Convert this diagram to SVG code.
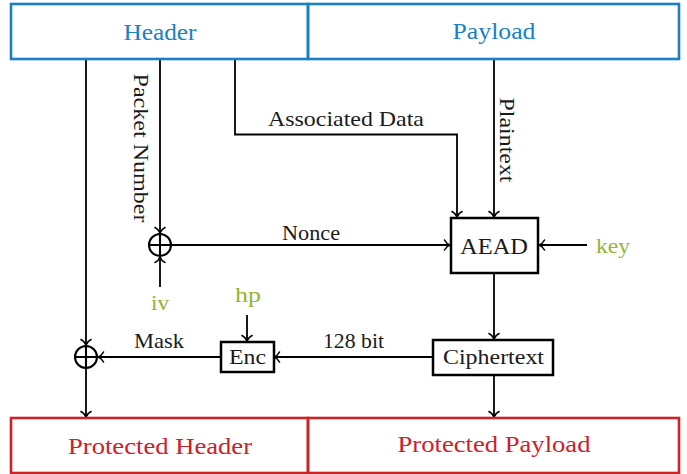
<svg xmlns="http://www.w3.org/2000/svg" width="687" height="474" viewBox="0 0 687 474">
<defs>
<style>
text{font-family:"Liberation Serif","Times New Roman",serif;text-anchor:middle;fill:#1a1a1a}
.big{font-size:24px}
.lbl{font-size:21px}
.blue{fill:#1a80c4}
.red{fill:#cc2229}
.green{fill:#93b531}
.pkt{fill:none;stroke-width:2.6}
.box{fill:#fff;stroke:#000;stroke-width:2.5}
.ln{fill:none;stroke:#000;stroke-width:1.8;marker-end:url(#arr)}
.xor{fill:none;stroke:#000;stroke-width:2.1}
</style>
<marker id="arr" markerUnits="userSpaceOnUse" viewBox="-7 -6 8 12" refX="0" refY="0" markerWidth="8" markerHeight="12" orient="auto" overflow="visible">
<path d="M-5.5,-5 C-4,-2 -1.5,-0.5 0,0 C-1.5,0.5 -4,2 -5.5,5" fill="none" stroke="#000" stroke-width="1.6" stroke-linecap="round"/>
</marker>
</defs>
<g id="connectors">
<path class="ln" d="M86,59 V345"/>
<path class="ln" d="M86,368 V417"/>
<path class="ln" d="M160,59 V233"/>
<path class="ln" d="M160,287 V257"/>
<path class="ln" d="M171,245 H450"/>
<path class="ln" d="M235,59 V134.5 H457 V217"/>
<path class="ln" d="M494,59 V217"/>
<path class="ln" d="M587,245 H539"/>
<path class="ln" d="M494,273 V339"/>
<path class="ln" d="M433,357 H274"/>
<path class="ln" d="M247,315 V341"/>
<path class="ln" d="M221,357 H98"/>
<path class="ln" d="M494,375 V417"/>
<text class="lbl" x="346" y="126" textLength="156" lengthAdjust="spacingAndGlyphs">Associated Data</text>
<text class="lbl" x="311" y="240" textLength="58" lengthAdjust="spacingAndGlyphs">Nonce</text>
<text class="lbl" transform="translate(134,148) rotate(90)" x="0" y="0" textLength="149" lengthAdjust="spacingAndGlyphs">Packet Number</text>
<text class="lbl" transform="translate(500,140) rotate(90)" x="0" y="0" textLength="85" lengthAdjust="spacingAndGlyphs">Plaintext</text>
<text class="lbl" x="159" y="348" textLength="50" lengthAdjust="spacingAndGlyphs">Mask</text>
<text class="lbl" x="353.5" y="348" textLength="61" lengthAdjust="spacingAndGlyphs">128 bit</text>
</g>
<g id="header">
<rect class="pkt" x="11" y="4" width="297" height="55" stroke="#1a80c4" fill="none"/>
<text class="big blue" x="160" y="40" textLength="73" lengthAdjust="spacingAndGlyphs">Header</text>
</g>
<g id="payload">
<rect class="pkt" x="308" y="4" width="371" height="55" stroke="#1a80c4" fill="none"/>
<text class="big blue" x="494" y="39" textLength="83" lengthAdjust="spacingAndGlyphs">Payload</text>
</g>
<g id="protected-header">
<rect class="pkt" x="11" y="418" width="297" height="55" stroke="#cc2229" fill="none"/>
<text class="big red" x="160" y="454" textLength="184" lengthAdjust="spacingAndGlyphs">Protected Header</text>
</g>
<g id="protected-payload">
<rect class="pkt" x="308" y="418" width="371" height="55" stroke="#cc2229" fill="none"/>
<text class="big red" x="494" y="452" textLength="193" lengthAdjust="spacingAndGlyphs">Protected Payload</text>
</g>
<g id="xor-nonce">
<circle class="xor" cx="160" cy="245" r="11"/>
<path class="xor" d="M149,245 H171 M160,234 V256"/>
</g>
<g id="iv">
<text class="lbl green" x="160" y="310" style="font-size:22px" textLength="18" lengthAdjust="spacingAndGlyphs">iv</text>
</g>
<g id="aead">
<rect class="box" x="451" y="218" width="87" height="55"/>
<text class="lbl" x="494" y="254" style="font-size:23px" textLength="68" lengthAdjust="spacingAndGlyphs">AEAD</text>
</g>
<g id="key">
<text class="lbl green" x="613" y="253" style="font-size:22px" textLength="34" lengthAdjust="spacingAndGlyphs">key</text>
</g>
<g id="ciphertext">
<rect class="box" x="433" y="340" width="120" height="35"/>
<text class="lbl" x="493.5" y="364" textLength="101" lengthAdjust="spacingAndGlyphs">Ciphertext</text>
</g>
<g id="enc">
<rect class="box" x="221" y="342" width="53" height="30"/>
<text class="lbl" x="247.5" y="364" textLength="37" lengthAdjust="spacingAndGlyphs">Enc</text>
</g>
<g id="hp">
<text class="lbl green" x="248" y="302" style="font-size:22px" textLength="26" lengthAdjust="spacingAndGlyphs">hp</text>
</g>
<g id="xor-mask">
<circle class="xor" cx="86" cy="357" r="11"/>
<path class="xor" d="M75,357 H97 M86,346 V368"/>
</g>
</svg>
